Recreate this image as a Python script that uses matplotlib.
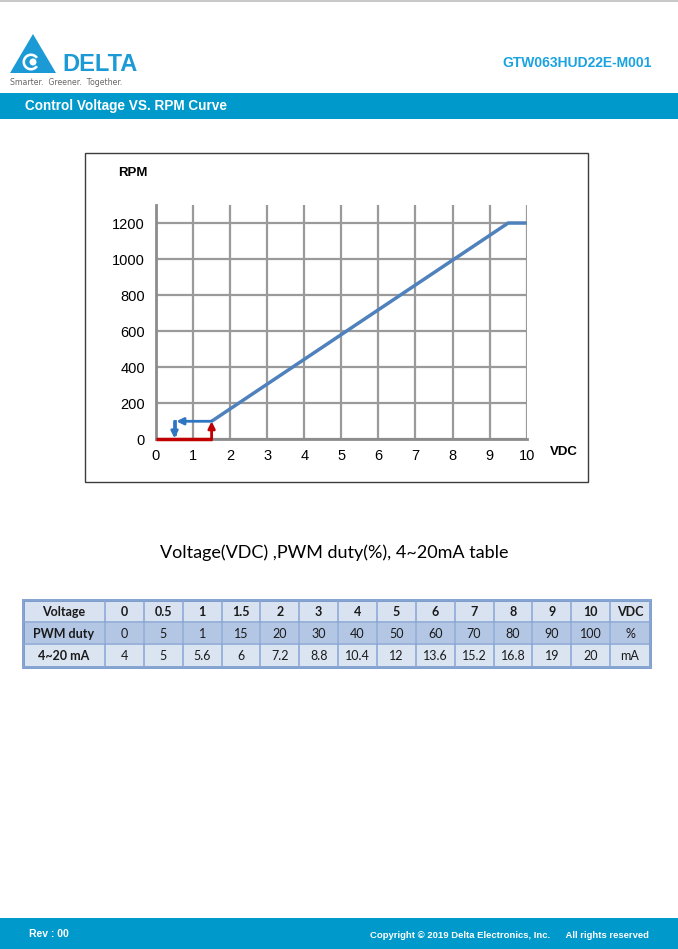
import matplotlib.pyplot as plt
from matplotlib.patches import Rectangle, Polygon, Circle, Wedge

# Curve data (VDC -> RPM)
run_vdc = [1.5, 9.5, 10]
run_rpm = [100, 1200, 1200]
start_vdc = [0, 1.5]
start_rpm = [0, 0]
start_arrow = [(1.5, 0), (1.5, 100)]
stop_path_vdc = [1.5, 0.5, 0.5]
stop_path_rpm = [100, 100, 0]

x_ticks = list(range(0, 11))
y_ticks = list(range(0, 1201, 200))

# Table data
voltage = ["0", "0.5", "1", "1.5", "2", "3", "4", "5", "6", "7", "8", "9", "10"]
pwm_duty = ["0", "5", "1", "15", "20", "30", "40", "50", "60", "70", "80", "90", "100"]
current_ma = ["4", "5", "5.6", "6", "7.2", "8.8", "10.4", "12", "13.6", "15.2", "16.8", "19", "20"]
row_names = ["Voltage", "PWM duty", "4~20 mA"]
units = ["VDC", "%", "mA"]

DELTA_BLUE = "#0099CC"
W, H = 678, 949

fig = plt.figure(figsize=(W / 100, H / 100), dpi=100)
page = fig.add_axes([0, 0, 1, 1])
page.set_xlim(0, W)
page.set_ylim(H, 0)
page.axis("off")

# top rule, header band, footer band
page.add_patch(Rectangle((0, 0), W, 1.5, color="#c8c8c8", lw=0))
page.add_patch(Rectangle((0, 93), W, 26, color=DELTA_BLUE, lw=0))
page.add_patch(Rectangle((0, 918), W, 31, color=DELTA_BLUE, lw=0))

# logo
logo_blue = "#1b9ad6"
page.add_patch(Polygon([(10, 73), (33, 34), (56, 73)], closed=True, color=logo_blue, lw=0))
page.add_patch(Wedge((31, 62), 8.5, 35, 325, width=2.6, color="white", lw=0))
page.add_patch(Circle((33, 62), 3.5, color="white", lw=0))
page.text(62, 64.5, "DELTA", fontsize=17, fontweight="bold", color=logo_blue,
          family="Liberation Sans", va="center", ha="left")
page.text(10, 82, "Smarter.  Greener.  Together.", fontsize=5.6, color="#666666",
          family="DejaVu Sans", va="center", ha="left")

page.text(652, 63, "GTW063HUD22E-M001", fontsize=10, fontweight="bold", color="#1aa3e0",
          family="Liberation Sans", va="center", ha="right")
page.text(25, 106, "Control Voltage VS. RPM Curve", fontsize=9.8, fontweight="bold",
          color="white", family="Liberation Sans", va="center", ha="left")

page.text(29, 934, "Rev : 00", fontsize=7.5, fontweight="bold", color="white",
          family="Liberation Sans", va="center", ha="left")
page.text(649, 935, "Copyright \u00a9 2019 Delta Electronics, Inc.      All rights reserved",
          fontsize=6.8, fontweight="bold", color="white", family="Liberation Sans",
          va="center", ha="right")

# chart frame
page.add_patch(Rectangle((85, 153), 503, 329, fill=False, ec="#3c3c3c", lw=1))
page.text(118, 173, "RPM", fontsize=9.5, fontweight="bold", family="Liberation Sans",
          va="center", ha="left")
page.text(550, 452, "VDC", fontsize=9.5, fontweight="bold", family="Liberation Sans",
          va="center", ha="left")

# table title
page.text(334, 553, "Voltage(VDC) ,PWM duty(%), 4~20mA table", fontsize=13,
          family="Lato", va="center", ha="center", color="black")

# table
col_w = [82] + [38.85] * 13 + [40]
row_h = 22.2
row_fill = ["#d9e2f1", "#b3c6e4", "#dbe5f2"]
x0, y0 = 23, 600
rows = [
    [row_names[0]] + voltage + [units[0]],
    [row_names[1]] + pwm_duty + [units[1]],
    [row_names[2]] + current_ma + [units[2]],
]
for r, cells in enumerate(rows):
    x = x0
    y = y0 + r * row_h
    for c, label in enumerate(cells):
        page.add_patch(Rectangle((x, y), col_w[c], row_h, fc=row_fill[r], ec="#f2f5fb", lw=1.2))
        bold = (r == 0 or c == 0)
        page.text(x + col_w[c] / 2, y + row_h / 2 + 0.5, label, fontsize=9,
                  fontweight="bold" if bold else "normal", family="Lato",
                  va="center", ha="center", color="#1a1a1a")
        x += col_w[c]
# grid lines of table
x = x0
for c in range(len(col_w) + 1):
    page.plot([x, x], [y0, y0 + 3 * row_h], color="#8aa7d4", lw=1.2)
    if c < len(col_w):
        x += col_w[c]
for r in range(4):
    page.plot([x0, x0 + sum(col_w)], [y0 + r * row_h] * 2, color="#8aa7d4", lw=1.2)
page.add_patch(Rectangle((x0, y0), sum(col_w), 3 * row_h, fill=False, ec="#7396c9", lw=2))

# chart axes
ax = fig.add_axes([156 / W, 1 - 439.3 / H, (526.7 - 156) / W, (439.3 - 205) / H])
ax.set_facecolor("none")
ax.set_xlim(0, 10)
ax.set_ylim(0, 1300)
ax.set_xticks(x_ticks)
ax.set_yticks(y_ticks)
ax.tick_params(length=0, labelsize=10.5, pad=8)
ax.tick_params(axis="x", pad=7)
for lab in ax.get_xticklabels() + ax.get_yticklabels():
    lab.set_family("Liberation Sans")
ax.grid(True, color="#9a9a9a", lw=1.6)
for s in ["top", "right"]:
    ax.spines[s].set_visible(False)
for s in ["left", "bottom"]:
    ax.spines[s].set_color("#8c8c8c")
    ax.spines[s].set_linewidth(2)
ax.set_axisbelow(True)

head = "-|>,head_length=0.4,head_width=0.2"
ax.plot(run_vdc, run_rpm, color="#4f81bd", lw=2.5, solid_capstyle="butt", zorder=5)
ax.plot(start_vdc, start_rpm, color="#c00000", lw=2.5, solid_capstyle="butt",
        zorder=5, clip_on=False)
ax.annotate("", xy=start_arrow[1], xytext=start_arrow[0],
            arrowprops=dict(arrowstyle=head, color="#c00000", lw=2,
                            shrinkA=0, shrinkB=0), zorder=6)
blue_arrow = "#2e75c4"
ax.annotate("", xy=(stop_path_vdc[1] + 0.05, stop_path_rpm[1]),
            xytext=(stop_path_vdc[0], stop_path_rpm[0]),
            arrowprops=dict(arrowstyle=head, color=blue_arrow, lw=2,
                            shrinkA=0, shrinkB=0), zorder=6)
ax.plot(stop_path_vdc[1:], [stop_path_rpm[1], 30], color=blue_arrow, lw=2, zorder=6)
ax.annotate("", xy=(stop_path_vdc[2], stop_path_rpm[2] + 5),
            xytext=(stop_path_vdc[1], stop_path_rpm[1]),
            arrowprops=dict(arrowstyle=head, color=blue_arrow, lw=2,
                            shrinkA=0, shrinkB=0), zorder=6)

fig.savefig("out.png", dpi=100)
